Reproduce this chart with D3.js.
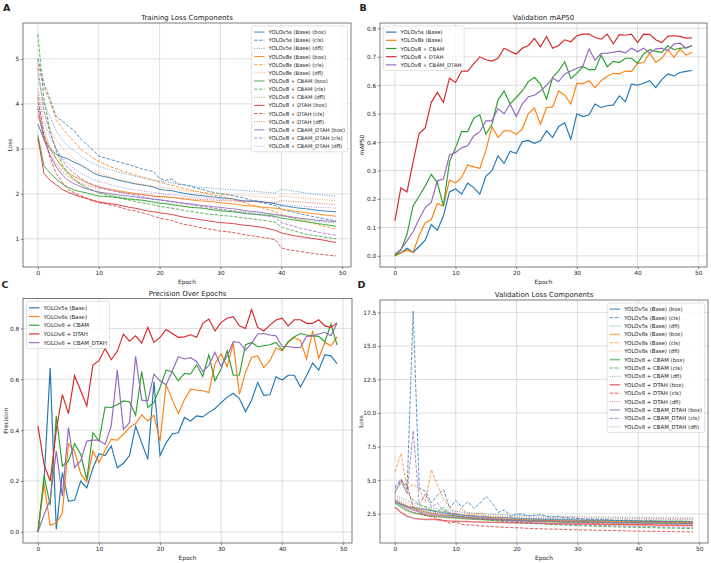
<!DOCTYPE html>
<html>
<head>
<meta charset="utf-8">
<title>YOLO training curves</title>
<script src="https://cdn.jsdelivr.net/npm/d3@7"></script>
<style>
  body { margin: 0; background: #fff; }
  svg text { font-family: "DejaVu Sans", sans-serif; fill: #222; }
</style>
</head>
<body>
<svg id="fig" width="711" height="563"></svg>
<script>
// ---- data ----
const epochs = d3.range(50);
const models = ["YOLOv5s (Base)", "YOLOv8s (Base)", "YOLOv8 + CBAM", "YOLOv8 + DTAH", "YOLOv8 + CBAM_DTAH"];
const colors = ["#1f77b4", "#ff7f0e", "#2ca02c", "#d62728", "#9467bd"];
const components = ["box", "cls", "dfl"];

// training loss (panel A), one array per model
const trainBox = [
  [3.55,3.2,3.0,2.88,2.82,2.77,2.7,2.64,2.56,2.47,2.41,2.38,2.35,2.31,2.28,2.25,2.22,2.2,2.18,2.15,2.1,2.08,2.07,2.04,2.01,1.99,1.97,1.96,1.94,1.93,1.91,1.9,1.89,1.86,1.84,1.84,1.84,1.82,1.8,1.78,1.74,1.72,1.7,1.68,1.67,1.65,1.63,1.62,1.61,1.6],
  [3.75,3.3,3.0,2.78,2.6,2.47,2.38,2.32,2.25,2.2,2.16,2.12,2.1,2.07,2.05,2.03,2.01,1.99,1.97,1.95,1.94,1.93,1.92,1.9,1.88,1.87,1.85,1.84,1.83,1.82,1.8,1.79,1.78,1.76,1.74,1.73,1.72,1.7,1.69,1.68,1.66,1.64,1.62,1.6,1.58,1.56,1.55,1.53,1.52,1.5],
  [3.3,2.62,2.46,2.33,2.22,2.14,2.08,2.05,2.02,1.98,1.95,1.94,1.93,1.92,1.9,1.88,1.87,1.86,1.84,1.81,1.79,1.78,1.76,1.74,1.72,1.7,1.69,1.68,1.66,1.64,1.62,1.61,1.6,1.58,1.56,1.55,1.54,1.53,1.52,1.5,1.46,1.44,1.42,1.4,1.38,1.36,1.34,1.32,1.3,1.28],
  [3.25,2.45,2.3,2.2,2.1,2.03,1.98,1.93,1.9,1.86,1.82,1.8,1.78,1.76,1.73,1.7,1.68,1.65,1.62,1.6,1.58,1.56,1.54,1.51,1.48,1.46,1.44,1.42,1.4,1.38,1.36,1.35,1.34,1.32,1.3,1.29,1.27,1.25,1.22,1.19,1.13,1.1,1.07,1.05,1.03,1.01,0.99,0.97,0.94,0.92],
  [3.9,3.2,2.85,2.6,2.42,2.3,2.22,2.16,2.11,2.07,2.04,2.02,2.0,1.98,1.96,1.95,1.93,1.91,1.9,1.88,1.87,1.85,1.83,1.81,1.79,1.78,1.76,1.74,1.73,1.71,1.7,1.68,1.67,1.65,1.63,1.61,1.6,1.58,1.56,1.54,1.52,1.5,1.48,1.46,1.44,1.43,1.41,1.4,1.39,1.38]
];
const trainCls = [
  [5.0,4.45,4.1,3.72,3.62,3.5,3.4,3.22,3.1,2.98,2.84,2.8,2.76,2.72,2.68,2.65,2.6,2.56,2.52,2.5,2.34,2.3,2.33,2.22,2.2,2.17,2.13,2.1,2.06,2.03,2.0,1.98,1.96,1.93,1.9,1.86,1.83,1.8,1.77,1.74,1.66,1.62,1.59,1.56,1.53,1.5,1.47,1.45,1.42,1.4],
  [4.9,4.35,4.05,3.65,3.45,3.3,3.15,3.0,2.9,2.8,2.72,2.66,2.6,2.55,2.5,2.46,2.42,2.38,2.34,2.3,2.26,2.22,2.19,2.15,2.12,2.09,2.06,2.03,2.0,1.97,1.95,1.92,1.88,1.84,1.8,1.76,1.72,1.68,1.64,1.6,1.54,1.5,1.46,1.42,1.39,1.35,1.32,1.28,1.25,1.22],
  [5.55,4.1,3.4,2.95,2.65,2.45,2.32,2.22,2.14,2.08,2.02,1.98,1.95,1.92,1.89,1.86,1.83,1.8,1.78,1.75,1.72,1.7,1.68,1.66,1.63,1.61,1.59,1.57,1.55,1.54,1.52,1.51,1.5,1.48,1.46,1.45,1.43,1.41,1.39,1.37,1.26,1.22,1.18,1.14,1.1,1.08,1.06,1.04,1.02,1.0],
  [4.15,3.3,2.8,2.45,2.25,2.1,2.02,1.96,1.9,1.84,1.8,1.78,1.75,1.72,1.68,1.64,1.62,1.58,1.55,1.5,1.46,1.43,1.41,1.36,1.32,1.3,1.27,1.24,1.22,1.2,1.17,1.16,1.14,1.12,1.09,1.07,1.05,1.03,1.01,0.98,0.8,0.76,0.74,0.72,0.7,0.68,0.66,0.65,0.63,0.62],
  [4.8,3.85,3.35,3.0,2.75,2.57,2.45,2.35,2.27,2.2,2.15,2.12,2.08,2.05,2.02,2.0,1.97,1.94,1.91,1.88,1.86,1.84,1.82,1.8,1.78,1.76,1.74,1.72,1.7,1.68,1.66,1.64,1.62,1.6,1.58,1.56,1.54,1.52,1.5,1.48,1.36,1.32,1.28,1.24,1.21,1.18,1.15,1.12,1.1,1.08]
];
const trainDfl = [
  [4.6,4.0,3.7,3.4,3.2,3.05,2.95,2.85,2.75,2.68,2.62,2.57,2.53,2.49,2.46,2.42,2.39,2.36,2.33,2.31,2.28,2.26,2.25,2.22,2.2,2.18,2.16,2.14,2.13,2.12,2.11,2.1,2.09,2.08,2.07,2.06,2.05,2.04,2.03,2.02,2.1,2.08,2.06,2.04,2.02,2.0,1.99,1.97,1.96,1.95],
  [4.35,3.8,3.45,3.2,3.02,2.88,2.76,2.66,2.58,2.51,2.45,2.41,2.37,2.33,2.3,2.27,2.24,2.21,2.19,2.17,2.15,2.13,2.11,2.09,2.07,2.06,2.05,2.03,2.02,2.01,2.0,1.99,1.98,1.97,1.96,1.95,1.94,1.93,1.92,1.91,1.95,1.94,1.92,1.91,1.9,1.89,1.88,1.87,1.86,1.85],
  [4.05,3.4,3.05,2.78,2.58,2.42,2.3,2.2,2.13,2.08,2.04,2.0,1.97,1.94,1.92,1.9,1.88,1.86,1.84,1.83,1.81,1.79,1.77,1.75,1.73,1.71,1.7,1.69,1.67,1.66,1.65,1.63,1.62,1.61,1.6,1.58,1.57,1.56,1.54,1.53,1.5,1.48,1.46,1.44,1.42,1.4,1.39,1.37,1.36,1.35],
  [3.95,3.2,2.9,2.66,2.5,2.38,2.3,2.24,2.19,2.15,2.12,2.1,2.07,2.05,2.03,2.01,1.99,1.98,1.96,1.95,1.94,1.93,1.92,1.91,1.9,1.89,1.88,1.87,1.87,1.86,1.85,1.85,1.84,1.84,1.83,1.83,1.82,1.82,1.81,1.81,1.85,1.84,1.83,1.82,1.81,1.8,1.79,1.78,1.77,1.76],
  [4.25,3.6,3.25,3.0,2.8,2.66,2.55,2.46,2.39,2.33,2.28,2.24,2.2,2.17,2.14,2.11,2.09,2.07,2.05,2.03,2.01,1.99,1.98,1.96,1.95,1.93,1.92,1.91,1.9,1.89,1.88,1.87,1.86,1.85,1.84,1.83,1.82,1.81,1.8,1.79,1.76,1.75,1.74,1.73,1.72,1.71,1.7,1.69,1.69,1.68]
];

// validation mAP50 (panel B)
const map50 = [
  [0.005,0.01,0.027,0.012,0.033,0.055,0.11,0.09,0.14,0.225,0.236,0.217,0.256,0.24,0.217,0.28,0.30,0.352,0.325,0.368,0.36,0.402,0.406,0.396,0.405,0.44,0.416,0.455,0.468,0.41,0.50,0.49,0.496,0.534,0.522,0.528,0.53,0.563,0.542,0.604,0.60,0.607,0.616,0.592,0.62,0.64,0.633,0.645,0.649,0.652],
  [0.0,0.01,0.02,0.012,0.072,0.117,0.127,0.184,0.175,0.267,0.256,0.276,0.32,0.313,0.308,0.37,0.455,0.416,0.44,0.44,0.428,0.446,0.50,0.52,0.463,0.522,0.524,0.58,0.565,0.534,0.607,0.606,0.616,0.592,0.616,0.632,0.642,0.64,0.65,0.649,0.677,0.68,0.714,0.68,0.695,0.725,0.698,0.727,0.706,0.716],
  [0.0,0.02,0.076,0.176,0.21,0.246,0.287,0.258,0.176,0.33,0.38,0.437,0.437,0.484,0.496,0.428,0.463,0.548,0.58,0.534,0.557,0.58,0.613,0.628,0.604,0.551,0.628,0.651,0.683,0.624,0.642,0.666,0.655,0.655,0.706,0.665,0.684,0.68,0.695,0.695,0.678,0.71,0.725,0.719,0.716,0.739,0.725,0.73,0.733,0.739],
  [0.123,0.24,0.225,0.33,0.43,0.45,0.54,0.575,0.54,0.625,0.61,0.65,0.65,0.675,0.70,0.69,0.685,0.695,0.73,0.72,0.71,0.73,0.74,0.765,0.735,0.772,0.73,0.74,0.76,0.753,0.774,0.78,0.78,0.768,0.762,0.78,0.746,0.778,0.776,0.78,0.75,0.78,0.779,0.76,0.75,0.772,0.774,0.772,0.766,0.767],
  [0.006,0.023,0.053,0.085,0.13,0.17,0.188,0.264,0.27,0.354,0.364,0.38,0.387,0.422,0.436,0.475,0.475,0.518,0.50,0.534,0.49,0.534,0.56,0.565,0.58,0.60,0.625,0.613,0.64,0.65,0.66,0.668,0.728,0.688,0.712,0.713,0.716,0.72,0.714,0.73,0.718,0.73,0.714,0.728,0.73,0.722,0.745,0.748,0.73,0.74]
];

// precision (panel C)
const precision = [
  [0.0,0.2,0.644,0.01,0.233,0.12,0.125,0.2,0.173,0.25,0.307,0.30,0.338,0.252,0.27,0.30,0.416,0.35,0.285,0.59,0.30,0.35,0.385,0.39,0.45,0.436,0.456,0.452,0.47,0.485,0.508,0.53,0.545,0.524,0.473,0.518,0.587,0.537,0.539,0.61,0.597,0.616,0.616,0.57,0.614,0.664,0.636,0.696,0.692,0.662],
  [0.0,0.19,0.026,0.035,0.075,0.347,0.318,0.229,0.197,0.318,0.272,0.32,0.364,0.361,0.384,0.41,0.426,0.46,0.436,0.459,0.357,0.578,0.52,0.465,0.52,0.561,0.558,0.555,0.548,0.66,0.70,0.65,0.741,0.541,0.627,0.686,0.692,0.646,0.673,0.723,0.712,0.745,0.765,0.752,0.68,0.79,0.683,0.745,0.732,0.767],
  [0.0,0.22,0.105,0.456,0.259,0.279,0.347,0.305,0.206,0.39,0.357,0.491,0.489,0.50,0.515,0.512,0.459,0.63,0.489,0.509,0.568,0.636,0.63,0.594,0.623,0.62,0.657,0.611,0.696,0.594,0.64,0.712,0.616,0.617,0.736,0.745,0.728,0.732,0.736,0.745,0.715,0.748,0.767,0.78,0.774,0.771,0.769,0.748,0.817,0.735],
  [0.417,0.265,0.2,0.40,0.54,0.465,0.614,0.555,0.495,0.656,0.673,0.721,0.677,0.71,0.778,0.75,0.771,0.742,0.804,0.745,0.765,0.796,0.78,0.765,0.767,0.775,0.765,0.82,0.837,0.79,0.824,0.84,0.846,0.81,0.80,0.874,0.804,0.79,0.813,0.833,0.84,0.81,0.834,0.834,0.82,0.82,0.834,0.81,0.804,0.822],
  [0.0,0.068,0.127,0.318,0.14,0.41,0.252,0.279,0.357,0.361,0.361,0.344,0.417,0.636,0.403,0.43,0.69,0.518,0.515,0.62,0.594,0.578,0.633,0.689,0.68,0.685,0.67,0.63,0.655,0.706,0.65,0.692,0.748,0.745,0.715,0.741,0.778,0.78,0.774,0.771,0.729,0.729,0.725,0.725,0.769,0.771,0.778,0.785,0.771,0.82]
];

// validation loss (panel D)
const valBox = [
  [3.35,3.2,3.05,2.95,2.9,2.82,2.74,2.66,2.58,2.5,2.45,2.4,2.36,2.33,2.3,2.27,2.24,2.22,2.2,2.18,2.16,2.14,2.13,2.12,2.1,2.09,2.08,2.07,2.06,2.05,2.04,2.03,2.02,2.01,2.0,2.0,1.99,1.98,1.97,1.97,1.96,1.95,1.95,1.94,1.93,1.93,1.92,1.92,1.91,1.9],
  [3.45,3.25,3.05,2.9,2.78,2.66,2.56,2.48,2.42,2.37,2.32,2.28,2.25,2.22,2.19,2.16,2.14,2.12,2.1,2.08,2.06,2.05,2.03,2.02,2.0,1.99,1.98,1.97,1.96,1.95,1.94,1.93,1.92,1.92,1.91,1.9,1.9,1.89,1.88,1.88,1.87,1.87,1.86,1.86,1.85,1.85,1.85,1.84,1.84,1.84],
  [3.3,3.0,2.75,2.58,2.48,2.4,2.34,2.29,2.25,2.21,2.18,2.15,2.12,2.1,2.08,2.06,2.04,2.02,2.01,2.0,1.98,1.97,1.96,1.95,1.94,1.93,1.92,1.91,1.9,1.89,1.88,1.88,1.87,1.86,1.86,1.85,1.84,1.84,1.83,1.83,1.82,1.82,1.81,1.81,1.8,1.8,1.8,1.79,1.79,1.79],
  [3.0,2.6,2.32,2.18,2.12,2.08,2.1,2.05,2.0,1.97,1.95,1.93,1.92,1.9,1.89,1.88,1.87,1.86,1.85,1.84,1.83,1.82,1.81,1.8,1.79,1.78,1.77,1.77,1.76,1.75,1.74,1.74,1.73,1.72,1.72,1.71,1.71,1.7,1.7,1.69,1.69,1.68,1.68,1.67,1.67,1.66,1.66,1.66,1.65,1.65],
  [3.5,3.2,2.95,2.78,2.65,2.55,2.47,2.4,2.35,2.3,2.26,2.22,2.19,2.16,2.13,2.11,2.09,2.07,2.05,2.03,2.01,2.0,1.98,1.97,1.96,1.94,1.93,1.92,1.91,1.9,1.89,1.88,1.87,1.86,1.85,1.85,1.84,1.83,1.82,1.82,1.81,1.8,1.8,1.79,1.78,1.78,1.77,1.77,1.76,1.76]
];
const valCls = [
  [4.5,5.1,4.3,17.6,4.4,4.2,3.3,3.9,4.3,2.9,3.5,3.0,3.4,2.9,3.3,3.8,3.3,2.6,2.8,2.3,2.5,2.45,2.35,2.4,2.45,2.3,2.25,2.3,2.2,2.2,2.15,2.12,2.1,2.08,2.1,2.05,2.02,2.0,2.03,1.98,1.96,1.95,1.97,1.93,1.92,1.9,1.91,1.88,1.87,1.86],
  [5.6,7.0,4.4,4.7,4.3,3.4,5.8,4.6,3.6,3.0,2.6,2.9,2.5,2.4,2.6,2.3,2.2,2.25,2.1,2.05,2.0,1.98,1.95,1.93,1.92,1.9,1.88,1.86,1.84,1.83,1.81,1.8,1.78,1.77,1.76,1.74,1.73,1.72,1.71,1.7,1.69,1.68,1.67,1.66,1.65,1.64,1.63,1.62,1.61,1.6],
  [4.2,4.8,4.1,3.5,3.2,3.0,2.8,2.65,3.0,2.4,2.35,2.3,2.2,2.15,2.1,2.05,2.0,1.95,1.92,1.88,1.85,1.82,1.8,1.77,1.75,1.72,1.7,1.68,1.66,1.64,1.62,1.6,1.59,1.57,1.56,1.54,1.53,1.52,1.51,1.5,1.49,1.48,1.47,1.46,1.45,1.44,1.43,1.42,1.41,1.4],
  [4.0,5.0,4.6,3.0,2.6,2.4,2.3,2.1,2.0,1.8,1.9,1.7,1.68,1.65,1.6,1.58,1.55,1.52,1.5,1.48,1.46,1.44,1.42,1.4,1.39,1.37,1.36,1.35,1.33,1.32,1.31,1.3,1.29,1.28,1.27,1.26,1.25,1.24,1.23,1.22,1.21,1.2,1.2,1.19,1.18,1.18,1.17,1.16,1.16,1.15],
  [4.4,5.0,4.0,8.7,3.2,4.0,3.0,3.3,2.7,2.6,2.5,2.4,2.35,2.3,2.22,2.15,2.1,2.05,2.0,1.96,1.92,1.88,1.85,1.82,1.8,1.78,1.76,1.74,1.72,1.7,1.69,1.67,1.66,1.64,1.63,1.62,1.61,1.6,1.59,1.58,1.57,1.56,1.55,1.54,1.53,1.52,1.52,1.51,1.5,1.5]
];
const valDfl = [
  [3.9,3.7,3.5,3.3,3.15,3.05,2.95,2.87,2.8,2.74,2.68,2.63,2.59,2.55,2.52,2.49,2.46,2.44,2.42,2.4,2.38,2.37,2.36,2.35,2.34,2.33,2.32,2.31,2.3,2.29,2.28,2.28,2.27,2.26,2.26,2.25,2.25,2.24,2.24,2.23,2.23,2.22,2.22,2.22,2.21,2.21,2.21,2.2,2.2,2.2],
  [3.8,3.55,3.3,3.12,3.0,2.9,2.8,2.72,2.65,2.59,2.54,2.5,2.46,2.43,2.4,2.37,2.35,2.33,2.31,2.29,2.28,2.27,2.26,2.25,2.24,2.23,2.22,2.22,2.21,2.2,2.2,2.19,2.19,2.18,2.18,2.18,2.17,2.17,2.17,2.16,2.16,2.16,2.16,2.15,2.15,2.15,2.15,2.15,2.14,2.14],
  [3.6,3.3,3.05,2.88,2.75,2.64,2.55,2.48,2.42,2.37,2.33,2.29,2.26,2.23,2.2,2.18,2.16,2.14,2.12,2.11,2.1,2.09,2.08,2.07,2.06,2.05,2.05,2.04,2.04,2.03,2.03,2.02,2.02,2.01,2.01,2.01,2.0,2.0,2.0,2.0,1.99,1.99,1.99,1.99,1.98,1.98,1.98,1.98,1.98,1.97],
  [3.5,3.1,2.8,2.62,2.5,2.42,2.36,2.31,2.27,2.23,2.2,2.17,2.15,2.13,2.11,2.09,2.08,2.07,2.06,2.05,2.04,2.03,2.02,2.01,2.0,2.0,1.99,1.99,1.98,1.98,1.97,1.97,1.97,1.96,1.96,1.96,1.95,1.95,1.95,1.95,1.94,1.94,1.94,1.94,1.94,1.93,1.93,1.93,1.93,1.93],
  [3.7,3.4,3.15,2.98,2.85,2.75,2.66,2.59,2.53,2.48,2.44,2.4,2.37,2.34,2.31,2.29,2.27,2.25,2.23,2.22,2.21,2.2,2.19,2.18,2.17,2.16,2.16,2.15,2.14,2.14,2.13,2.13,2.12,2.12,2.11,2.11,2.11,2.1,2.1,2.1,2.1,2.09,2.09,2.09,2.09,2.08,2.08,2.08,2.08,2.08]
];

const xTicks = [0, 10, 20, 30, 40, 50];

// ---- drawing ----
const svg = d3.select('#fig');
const dashes = { box: null, cls: '3.4,1.5', dfl: '0.9,1.5' };

// one series per model x component, in the order matplotlib plotted them
function lossSeries(box, cls, dfl) {
  const byComp = { box: box, cls: cls, dfl: dfl };
  return models.flatMap((m, i) => components.map(c => ({
    name: `${m} (${c})`, values: byComp[c][i], color: colors[i], comp: c
  })));
}
function simpleSeries(arr) {
  return models.map((m, i) => ({ name: m, values: arr[i], color: colors[i], comp: 'box' }));
}

function padded(vals) {
  const [lo, hi] = d3.extent(vals);
  const m = (hi - lo) * 0.05;
  return [lo - m, hi + m];
}

function drawPanel(p) {
  const x = d3.scaleLinear().domain([-2.45, 51.45]).range([p.l, p.r]);
  const y = d3.scaleLinear().domain(padded(p.series.flatMap(s => s.values))).range([p.b, p.t]);
  const g = svg.append('g');

  // grid
  g.append('g').selectAll('line').data(xTicks).join('line')
    .attr('x1', d => x(d)).attr('x2', d => x(d)).attr('y1', p.t).attr('y2', p.b)
    .attr('stroke', '#b0b0b0').attr('stroke-opacity', 0.6).attr('stroke-width', 0.7);
  g.append('g').selectAll('line').data(p.yTicks).join('line')
    .attr('x1', p.l).attr('x2', p.r).attr('y1', d => y(d)).attr('y2', d => y(d))
    .attr('stroke', '#b0b0b0').attr('stroke-opacity', 0.6).attr('stroke-width', 0.7);

  // axes
  const ax = g.append('g').attr('transform', `translate(0,${p.b})`)
    .call(d3.axisBottom(x).tickValues(xTicks).tickSize(2.2).tickPadding(1.6).tickFormat(d3.format('d')));
  const ay = g.append('g').attr('transform', `translate(${p.l},0)`)
    .call(d3.axisLeft(y).tickValues(p.yTicks).tickSize(2.2).tickPadding(1.6).tickFormat(d3.format(p.yFmt)));
  [ax, ay].forEach(a => {
    a.select('.domain').remove();
    a.selectAll('line').attr('stroke', '#333').attr('stroke-width', 0.6);
    a.selectAll('text').attr('font-size', '5.8px').attr('font-family', 'DejaVu Sans').attr('fill', '#222');
  });

  // lines
  const line = d3.line().x((d, i) => x(epochs[i])).y(d => y(d));
  g.append('g').selectAll('path').data(p.series).join('path')
    .attr('d', d => line(d.values))
    .attr('fill', 'none')
    .attr('stroke', d => d.color)
    .attr('stroke-width', d => d.comp === 'box' ? p.boxWidth : 0.9)
    .attr('stroke-opacity', d => d.comp === 'box' ? p.boxAlpha : p.alpha)
    .attr('stroke-dasharray', d => dashes[d.comp]);

  // frame
  g.append('rect').attr('x', p.l).attr('y', p.t).attr('width', p.r - p.l).attr('height', p.b - p.t)
    .attr('fill', 'none').attr('stroke', '#444').attr('stroke-width', 0.7);

  // texts
  g.append('text').attr('x', (p.l + p.r) / 2).attr('y', p.t - 2.8)
    .attr('text-anchor', 'middle').attr('font-size', '7px').text(p.title);
  g.append('text').attr('x', (p.l + p.r) / 2).attr('y', p.b + 16.5)
    .attr('text-anchor', 'middle').attr('font-size', '5.8px').text('Epoch');
  g.append('text').attr('transform', `translate(${p.ylabelX},${(p.t + p.b) / 2}) rotate(-90)`)
    .attr('text-anchor', 'middle').attr('dominant-baseline', 'central')
    .attr('font-size', '5.8px').text(p.ylabel);
  g.append('text').attr('x', p.letter[1]).attr('y', p.letter[2])
    .attr('font-size', '9.5px').attr('font-weight', 'bold').text(p.letter[0]);

  drawLegend(g, p);
}

function drawLegend(g, p) {
  const L = p.legend;
  const lg = g.append('g');
  const box = lg.append('rect');
  const items = lg.selectAll('g').data(p.series).join('g');
  const texts = items.append('text').attr('font-size', L.fs + 'px').text(d => d.name);
  const maxW = d3.max(texts.nodes(), n => n.getComputedTextLength());
  const w = 2.5 + 10.5 + 4 + maxW + 2.5;
  const h = L.row * p.series.length + 3.5;
  const x0 = L.side === 'right' ? p.r - 3.5 - w : p.l + 3.5;
  const y0 = p.t + 3;
  box.attr('x', x0).attr('y', y0).attr('width', w).attr('height', h).attr('rx', 1.5)
    .attr('fill', '#fff').attr('fill-opacity', 0.8).attr('stroke', '#d0d0d0').attr('stroke-width', 0.6);
  items.attr('transform', (d, i) => `translate(0,${y0 + 2 + L.row * (i + 0.5)})`);
  items.insert('line', 'text').attr('x1', x0 + 2.5).attr('x2', x0 + 13)
    .attr('stroke', d => d.color)
    .attr('stroke-width', d => d.comp === 'box' ? p.boxWidth : 0.9)
    .attr('stroke-opacity', d => d.comp === 'box' ? p.boxAlpha : p.alpha)
    .attr('stroke-dasharray', d => dashes[d.comp]);
  texts.attr('x', x0 + 17).attr('dominant-baseline', 'central');
}

drawPanel({
  l: 23, t: 23, r: 351, b: 267,
  title: 'Training Loss Components', ylabel: 'Loss', ylabelX: 9.5, letter: ['A', 3, 10.5],
  yTicks: [1, 2, 3, 4, 5], yFmt: 'd',
  series: lossSeries(trainBox, trainCls, trainDfl),
  boxWidth: 1, boxAlpha: 0.85, alpha: 0.85,
  legend: { side: 'right', fs: 5.3, row: 8.15 }
});
drawPanel({
  l: 380, t: 23, r: 707, b: 267,
  title: 'Validation mAP50', ylabel: 'mAP50', ylabelX: 361.5, letter: ['B', 359.5, 10.5],
  yTicks: [0, 0.1, 0.2, 0.3, 0.4, 0.5, 0.6, 0.7, 0.8], yFmt: '.1f',
  series: simpleSeries(map50),
  boxWidth: 1.15, boxAlpha: 1, alpha: 1,
  legend: { side: 'left', fs: 5.3, row: 8.2 }
});
drawPanel({
  l: 23, t: 298.5, r: 352, b: 543,
  title: 'Precision Over Epochs', ylabel: 'Precision', ylabelX: 6.3, letter: ['C', 1.5, 287.5],
  yTicks: [0, 0.2, 0.4, 0.6, 0.8], yFmt: '.1f',
  series: simpleSeries(precision),
  boxWidth: 1.15, boxAlpha: 1, alpha: 1,
  legend: { side: 'left', fs: 5.5, row: 8.7 }
});
drawPanel({
  l: 380, t: 300, r: 708, b: 543,
  title: 'Validation Loss Components', ylabel: 'Loss', ylabelX: 360.5, letter: ['D', 357.5, 287.5],
  yTicks: [2.5, 5, 7.5, 10, 12.5, 15, 17.5], yFmt: '.1f',
  series: lossSeries(valBox, valCls, valDfl),
  boxWidth: 1.5, boxAlpha: 0.6, alpha: 0.85,
  legend: { side: 'right', fs: 5.4, row: 8.4 }
});
</script>
</body>
</html>
